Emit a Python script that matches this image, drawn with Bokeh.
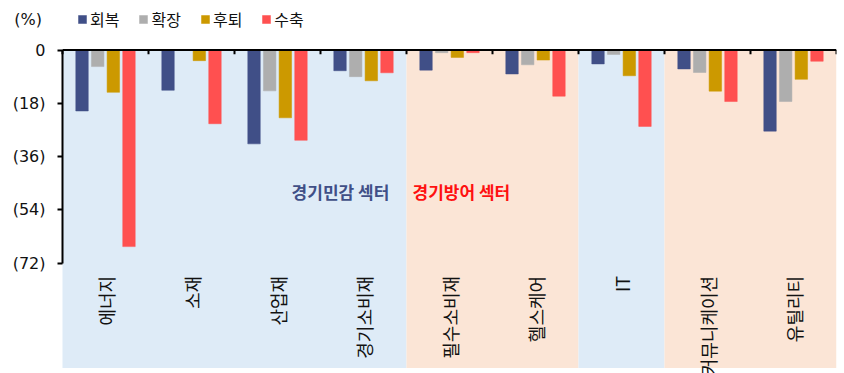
import numpy as np
from bokeh.plotting import figure
from bokeh.models import (Range1d, FixedTicker, Legend, LegendItem, Label, LinearAxis,
                          ColumnDataSource, CustomJSTickFormatter, Grid)
from bokeh.core.properties import value
from bokeh.transform import dodge
from bokeh.embed import file_html
from bokeh.resources import INLINE

# ---- data ----
categories = ["에너지", "소재", "산업재", "경기소비재", "필수소비재", "헬스케어", "IT", "커뮤니케이션", "유틸리티"]
sector = ["민감", "민감", "민감", "민감", "방어", "방어", "민감", "방어", "방어"]
series_names = ["회복", "확장", "후퇴", "수축"]
recovery = [-20.6, -13.6, -31.7, -7.0, -6.8, -8.1, -4.7, -6.4, -27.4]
expansion = [-5.6, 0.0, -13.8, -9.0, -0.9, -5.0, -1.5, -7.6, -17.4]
slowdown = [-14.3, -3.6, -22.9, -10.4, -2.5, -3.4, -8.7, -13.9, -9.9]
contraction = [-66.4, -24.9, -30.5, -7.7, -0.9, -15.6, -25.8, -17.4, -3.8]
y_ticks = [0, -18, -36, -54, -72]

# ---- styles ----
series_colors = ["#404F87", "#AEAEAE", "#CC9900", "#FF5050"]
band_colors = {"민감": "#DEEBF7", "방어": "#FBE5D6"}
KFONT = "Noto Sans CJK KR"

n = len(categories)
centers = np.arange(n) + 0.5
src = ColumnDataSource(dict(
    x=centers,
    cat=categories,
    s0=recovery, s1=expansion, s2=slowdown, s3=contraction,
))
bounds_src = ColumnDataSource(dict(b=np.arange(n + 1)))

# merge consecutive categories of the same sector into one band
runs_l, runs_r, runs_c = [], [], []
for i, s in enumerate(sector):
    if runs_c and sector[i - 1] == s:
        runs_r[-1] = i + 1
    else:
        runs_l.append(i)
        runs_r.append(i + 1)
        runs_c.append(band_colors[s])
band_src = ColumnDataSource(dict(l=runs_l, r=runs_r, c=runs_c))

PX_PER_CAT = 86.0
PX_PER_UNIT = 2.961
p = figure(width=844, height=373,
           x_range=Range1d(-62 / PX_PER_CAT, n), y_range=Range1d(-323.5 / PX_PER_UNIT, 49.5 / PX_PER_UNIT),
           output_backend="svg", toolbar_location=None,
           x_axis_location=None, y_axis_location=None,
           min_border_left=0, min_border_right=8, min_border_top=0, min_border_bottom=0)
p.outline_line_color = None
p.background_fill_color = "white"
for g in p.select(type=Grid):
    g.visible = False

# background bands
p.quad(left="l", right="r", top=0, bottom=-107.4, fill_color="c", line_color=None, source=band_src)

# bars
step = 0.182
bw = 0.145
renderers = []
for k, col in enumerate(series_colors):
    off = (k - 1.5) * step
    r = p.vbar(x=dodge("x", off), top=f"s{k}", bottom=0, width=bw, source=src,
               fill_color=col, line_color=col, line_width=0.5)
    renderers.append(r)

# zero line with category boundary ticks
p.line(x="b", y=0, source=bounds_src, line_color="black", line_width=2)
p.segment(x0="b", y0=0, x1="b", y1=-1.4, source=bounds_src, line_color="black", line_width=2)

# y axis drawn at x = 0
yaxis = LinearAxis(ticker=FixedTicker(ticks=y_ticks), bounds=(-72, 0), fixed_location=0,
                   formatter=CustomJSTickFormatter(code="return tick == 0 ? '0' : '(' + Math.abs(tick) + ')';"),
                   axis_line_width=2, axis_line_color="black",
                   major_tick_in=0, major_tick_out=5, major_tick_line_width=2,
                   minor_tick_line_color=None,
                   major_label_standoff=12,
                   major_label_text_font="DejaVu Sans", major_label_text_font_size="16px",
                   major_label_text_color="#111111")
p.add_layout(yaxis, "left")

# category labels (rotated)
p.text(x="x", y=-76.3, text="cat", source=src, angle=np.pi / 2,
       text_align="right", text_baseline="middle",
       text_font=value(KFONT), text_font_size="18px", text_color="#111111")

# sector labels
p.add_layout(Label(x=3.80, y=-47.7, text="경기민감 섹터", text_align="right", text_baseline="middle",
                   text_font=KFONT, text_font_size="17px", text_font_style="bold",
                   text_color="#404F87"))
p.add_layout(Label(x=4.07, y=-47.7, text="경기방어 섹터", text_align="left", text_baseline="middle",
                   text_font=KFONT, text_font_size="17px", text_font_style="bold",
                   text_color="#FF1010"))

# unit label
p.add_layout(Label(x=-0.40, y=10.3, text="(%)", text_align="center", text_baseline="middle",
                   text_font="DejaVu Sans", text_font_size="16px", text_color="#111111"))

# legend (screen px from the frame's bottom-left)
legend = Legend(items=[LegendItem(label=nm, renderers=[r]) for nm, r in zip(series_names, renderers)],
                orientation="horizontal", location=(77, 342),
                glyph_width=10, glyph_height=10, label_standoff=3, spacing=19, label_height=20,
                padding=0, margin=0, border_line_color=None, background_fill_alpha=0,
                label_text_font=KFONT, label_text_font_size="16px", label_text_color="#111111")
p.add_layout(legend)

open("out.html", "w").write(file_html(p, INLINE))
